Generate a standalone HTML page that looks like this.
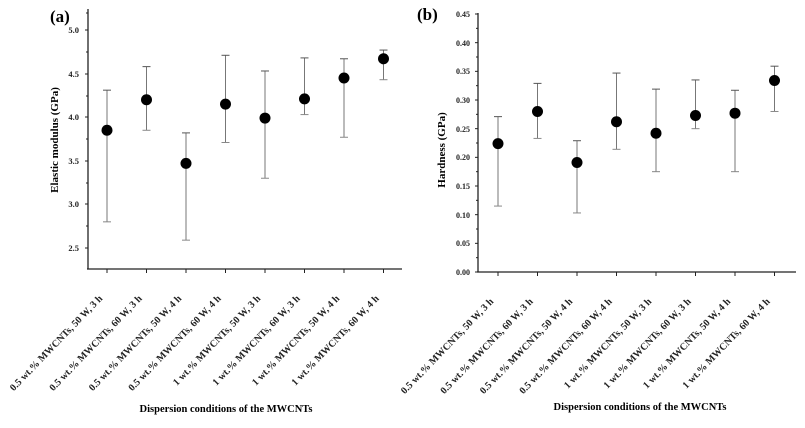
<!DOCTYPE html>
<html><head><meta charset="utf-8"><style>body{margin:0;background:#fff}svg{display:block}</style></head><body>
<svg width="805" height="428" xmlns="http://www.w3.org/2000/svg" font-family="Liberation Serif, serif" font-weight="bold">
<rect width="805" height="428" fill="#fff"/>
<g id="A">
<text x="50" y="22" font-size="17">(a)</text>
<line x1="88" y1="9" x2="88" y2="269" stroke="#222" stroke-width="1.3"/>
<line x1="87" y1="269" x2="402" y2="269" stroke="#222" stroke-width="1.3"/>
<g font-size="8.5" text-anchor="end" fill="#222">
<text x="79" y="33">5.0</text><text x="79" y="77">4.5</text><text x="79" y="120">4.0</text><text x="79" y="164">3.5</text><text x="79" y="207">3.0</text><text x="79" y="251">2.5</text>
</g>
<g stroke="#222" stroke-width="1">
<line x1="85" y1="30" x2="88" y2="30"/><line x1="85" y1="74" x2="88" y2="74"/><line x1="85" y1="117" x2="88" y2="117"/><line x1="85" y1="161" x2="88" y2="161"/><line x1="85" y1="204" x2="88" y2="204"/><line x1="85" y1="248" x2="88" y2="248"/>
<line x1="86" y1="52" x2="88" y2="52"/><line x1="86" y1="96" x2="88" y2="96"/><line x1="86" y1="139" x2="88" y2="139"/><line x1="86" y1="183" x2="88" y2="183"/><line x1="86" y1="226" x2="88" y2="226"/><line x1="86" y1="13" x2="88" y2="13"/>
</g>
<text transform="translate(58,140) rotate(-90)" font-size="11" text-anchor="middle">Elastic modulus (GPa)</text>
<text x="226" y="412" font-size="10.5" text-anchor="middle">Dispersion conditions of the MWCNTs</text>
</g>
<g id="B">
<text x="417" y="20" font-size="17">(b)</text>
<line x1="478" y1="13" x2="478" y2="272" stroke="#222" stroke-width="1.3"/>
<line x1="477" y1="272" x2="796" y2="272" stroke="#222" stroke-width="1.3"/>
<g font-size="8" text-anchor="end" fill="#222">
<text x="470" y="17">0.45</text><text x="470" y="46">0.40</text><text x="470" y="74">0.35</text><text x="470" y="103">0.30</text><text x="470" y="132">0.25</text><text x="470" y="160">0.20</text><text x="470" y="189">0.15</text><text x="470" y="218">0.10</text><text x="470" y="246">0.05</text><text x="470" y="275">0.00</text>
</g>
<g stroke="#222" stroke-width="1" id="bt"></g>
<text transform="translate(445,150) rotate(-90)" font-size="11" text-anchor="middle">Hardness (GPa)</text>
<text x="640" y="410" font-size="10.5" text-anchor="middle">Dispersion conditions of the MWCNTs</text>
</g>
<g id="dyn"></g>
<script>
const ns="http://www.w3.org/2000/svg",g=document.getElementById('dyn');
function el(t,a,txt,p){const e=document.createElementNS(ns,t);for(const k in a)e.setAttribute(k,a[k]);if(txt)e.textContent=txt;(p||g).appendChild(e);}
const bt=document.getElementById('bt');
for(let i=0;i<=18;i++){const y=272-i*14.333;el('line',{x1:i%2?476:475,y1:y,x2:478,y2:y},null,bt);}
const labs=["0.5 wt.% MWCNTs, 50 W, 3 h","0.5 wt.% MWCNTs, 60 W, 3 h","0.5 wt.%  MWCNTs, 50 W, 4 h","0.5 wt.% MWCNTs, 60 W, 4 h","1 wt.% MWCNTs, 50 W, 3 h","1 wt.% MWCNTs, 60 W, 3 h","1 wt.% MWCNTs, 50 W, 4 h","1 wt.% MWCNTs, 60 W, 4 h"];
const A=[[3.85,4.31,2.80],[4.20,4.58,3.85],[3.47,3.82,2.59],[4.15,4.71,3.71],[3.99,4.53,3.30],[4.21,4.68,4.03],[4.45,4.67,3.77],[4.67,4.77,4.43]];
const B=[[.224,.271,.115],[.280,.329,.233],[.191,.229,.103],[.262,.347,.214],[.242,.319,.175],[.273,.335,.250],[.277,.317,.175],[.334,.359,.280]];
const ya=v=>30+(5-v)*87.2, yb=v=>272-v*573.3;
function panel(x0,axY,data,yf){
 for(let i=0;i<8;i++){const x=x0+i*39.5,d=data[i];
  el('line',{x1:x,y1:axY,x2:x,y2:axY+4,stroke:'#222','stroke-width':1});
  el('line',{x1:x,y1:yf(d[1]),x2:x,y2:yf(d[2]),stroke:'#777','stroke-width':1});
  el('line',{x1:x-4,y1:yf(d[1]),x2:x+4,y2:yf(d[1]),stroke:'#555','stroke-width':1});
  el('line',{x1:x-4,y1:yf(d[2]),x2:x+4,y2:yf(d[2]),stroke:'#888','stroke-width':1});
  el('circle',{cx:x,cy:yf(d[0]),r:5.5,fill:'#000'});
  el('text',{transform:`translate(${x-4},${axY+30}) rotate(-46)`,'font-size':'10','text-anchor':'end',fill:'#222'},labs[i]);
 }
}
panel(107,269,A,ya);panel(498,272,B,yb);
</script>
</svg>
</body></html>
